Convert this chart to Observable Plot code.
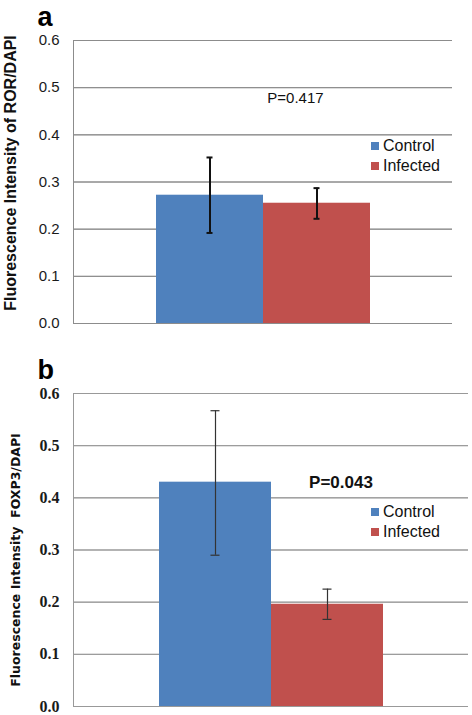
<!DOCTYPE html>
<html>
<head>
<meta charset="utf-8">
<script src="https://cdn.jsdelivr.net/npm/d3@7"></script>
<script src="https://cdn.jsdelivr.net/npm/@observablehq/plot@0.6"></script>
<style>
  html, body { margin: 0; padding: 0; background: #fff; }
  #wrap { position: relative; width: 472px; height: 715px; overflow: hidden; font-family: "Liberation Sans", Arial, sans-serif; }
  .panel { position: absolute; left: 0; }
  .legend { position: absolute; left: 371px; font-size: 16px; color: #111; line-height: 20px; }
  .legend div { display: flex; align-items: center; height: 20px; }
  .legend span.sw { display: inline-block; width: 8px; height: 8px; margin-right: 4px; }
</style>
</head>
<body>
<div id="wrap">
  <div class="panel" id="panelA" style="top:0"></div>
  <div class="panel" id="panelB" style="top:350px"></div>
  <div class="legend" id="legA" style="top:136px"></div>
  <div class="legend" id="legB" style="top:502px"></div>
</div>
<script>
// ---- data ----
const groups = ["Control", "Infected"];
const colors = ["#4F81BD", "#C0504D"];
const yTicks = [0, 0.1, 0.2, 0.3, 0.4, 0.5, 0.6];
const yTickLabels = ["0.0", "0.1", "0.2", "0.3", "0.4", "0.5", "0.6"];

// panel a: ROR/DAPI
const rorMean = [0.272, 0.255];
const rorLow = [0.192, 0.222];
const rorHigh = [0.352, 0.287];
const pA = "P=0.417";
const titleA = "Fluorescence Intensity of ROR/DAPI";

// panel b: FOXP3/DAPI
const foxMean = [0.430, 0.196];
const foxLow = [0.290, 0.167];
const foxHigh = [0.567, 0.225];
const pB = "P=0.043";
const titleB = "Fluorescence Intensity  FOXP3/DAPI";

function rows(mean, low, high) {
  return groups.map((g, i) => ({group: g, mean: mean[i], low: low[i], high: high[i]}));
}

function panel(cfg) {
  const data = rows(cfg.mean, cfg.low, cfg.high);
  return Plot.plot({
    width: 472,
    height: cfg.height,
    marginTop: cfg.marginTop,
    marginBottom: cfg.marginBottom,
    marginLeft: 73,
    marginRight: cfg.marginRight,
    style: {fontFamily: "Liberation Sans, Arial, sans-serif", background: "#fff", overflow: "visible"},
    x: {domain: groups, paddingInner: 0, paddingOuter: cfg.paddingOuter, axis: null},
    y: {domain: [0, 0.6], ticks: yTicks, label: null, axis: null},
    color: {domain: groups, range: colors},
    marks: [
      Plot.gridY(yTicks, {stroke: cfg.gridColor, strokeOpacity: 1, strokeWidth: 1}),
      Plot.frame({anchor: "left", stroke: cfg.gridColor, strokeOpacity: 1}),
      Plot.tickY(yTicks, {y: d => d, frameAnchor: "left", stroke: cfg.gridColor}),
      Plot.text(yTicks, {
        y: d => d, text: (d, i) => yTickLabels[i], frameAnchor: "left", dx: -14, textAnchor: "end",
        fontSize: cfg.tickSize, fontFamily: cfg.tickFont, fontWeight: cfg.tickWeight, fill: "#1a1a1a"
      }),
      Plot.barY(data, {x: "group", y: "mean", fill: "group"}),
      Plot.ruleX(data, {x: "group", y1: "low", y2: "high", stroke: cfg.errColor, strokeWidth: cfg.errWidth}),
      Plot.tickY(data, {x: "group", y: "high", stroke: cfg.errColor, strokeWidth: cfg.errWidth, insetLeft: cfg.capInset, insetRight: cfg.capInset}),
      Plot.tickY(data, {x: "group", y: "low", stroke: cfg.errColor, strokeWidth: cfg.errWidth, insetLeft: cfg.capInset, insetRight: cfg.capInset}),
      Plot.text([cfg.p], {text: d => d, frameAnchor: "top", dx: cfg.pdx, dy: cfg.pdy, lineAnchor: "middle",
        fontSize: cfg.pSize, fontWeight: cfg.pWeight, fill: "#111"}),
      Plot.text([cfg.title], {text: d => d, frameAnchor: "left", rotate: -90, dx: cfg.tdx, dy: cfg.tdy,
        textAnchor: "middle", lineAnchor: "top", fontSize: cfg.titleSize, fontWeight: "bold",
        fontFamily: cfg.titleFont, fill: "#111"}),
      Plot.text([cfg.letter], {text: d => d, frameAnchor: "top-left", dx: -36, dy: cfg.letterDy,
        textAnchor: "start", lineAnchor: "bottom", fontSize: 27, fontWeight: "bold", fill: "#000"})
    ]
  });
}

document.getElementById("panelA").appendChild(panel({
  height: 350, marginTop: 40, marginBottom: 27, marginRight: 20, paddingOuter: 0.755,
  mean: rorMean, low: rorLow, high: rorHigh,
  gridColor: "#8c8c8c", tickFont: "Liberation Sans, Arial, sans-serif", tickWeight: "normal", tickSize: 15,
  errColor: "#111", errWidth: 2, capInset: 50.5,
  p: pA, pdx: 32.5, pdy: 58, pSize: 15, pWeight: "normal",
  title: titleA, tdx: -69, tdy: -9, titleSize: 16, titleFont: "Liberation Sans, Arial, sans-serif",
  letter: "a", letterDy: -15
}));

document.getElementById("panelB").appendChild(panel({
  height: 365, marginTop: 43, marginBottom: 9, marginRight: 4, paddingOuter: 0.76,
  mean: foxMean, low: foxLow, high: foxHigh,
  gridColor: "#999999", tickFont: "Liberation Serif, serif", tickWeight: "bold", tickSize: 16,
  errColor: "#333", errWidth: 1.2, capInset: 51.5,
  p: pB, pdx: 70, pdy: 89.5, pSize: 17, pWeight: "bold",
  title: titleB, tdx: -62, tdy: 10, titleSize: 12.5, titleFont: "DejaVu Sans, sans-serif",
  letter: "b", letterDy: -15
}));

function legend(id) {
  const el = document.getElementById(id);
  groups.forEach((g, i) => {
    const row = document.createElement("div");
    const sw = document.createElement("span");
    sw.className = "sw";
    sw.style.background = colors[i];
    row.appendChild(sw);
    row.appendChild(document.createTextNode(g));
    el.appendChild(row);
  });
}
legend("legA");
legend("legB");
</script>
</body>
</html>
